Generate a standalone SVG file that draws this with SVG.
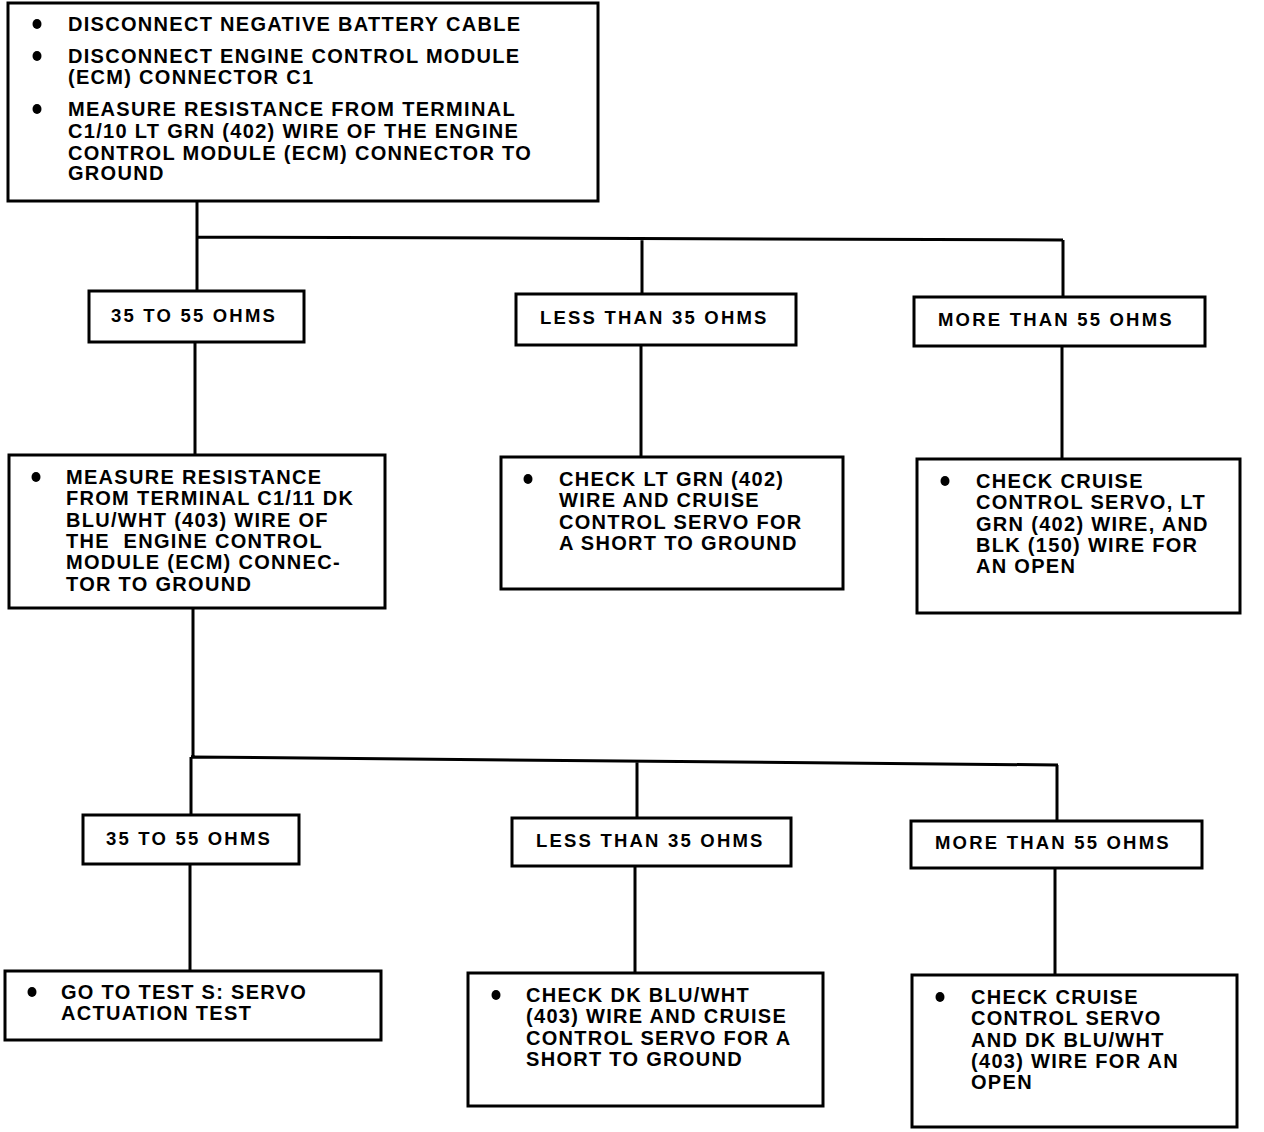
<svg xmlns="http://www.w3.org/2000/svg" width="1264" height="1132" viewBox="0 0 1264 1132">
<style>
.box{fill:#fff;stroke:#000;stroke-width:3}
.t{font-family:"Liberation Sans",Arial,sans-serif;font-weight:bold;font-size:20px;letter-spacing:1.3px;fill:#000}
.l{font-family:"Liberation Sans",Arial,sans-serif;font-weight:bold;font-size:18.5px;letter-spacing:2.2px;fill:#000}
.c{fill:none;stroke:#000;stroke-width:3}
.b{fill:#000}
</style>
<rect width="1264" height="1132" fill="#fff"/>
<g id="connectors">
<path class="c" d="M197 201V237M197 237L1063 240M197 237V291M642 238V294M1063 240V298"/>
<path class="c" d="M195 342V455M641 345V457M1062 346V459"/>
<path class="c" d="M193 608V757M191 757L1058 765M191 757V815M637 761V818M1057 765V821"/>
<path class="c" d="M190 864V971M635 866V973M1055 868V975"/>
</g>
<g id="n1">
<rect class="box" x="8" y="3" width="590" height="198"/>
<ellipse class="b" cx="37" cy="24" rx="4.5" ry="5"/>
<ellipse class="b" cx="37" cy="56" rx="4.5" ry="5"/>
<ellipse class="b" cx="37" cy="109" rx="4.5" ry="5"/>
<text class="t" x="68" y="31">DISCONNECT NEGATIVE BATTERY CABLE</text>
<text class="t" x="68" y="63">DISCONNECT ENGINE CONTROL MODULE</text>
<text class="t" x="68" y="84">(ECM) CONNECTOR C1</text>
<text class="t" x="68" y="116">MEASURE RESISTANCE FROM TERMINAL</text>
<text class="t" x="68" y="138">C1/10 LT GRN (402) WIRE OF THE ENGINE</text>
<text class="t" x="68" y="160">CONTROL MODULE (ECM) CONNECTOR TO</text>
<text class="t" x="68" y="180">GROUND</text>
</g>
<g id="n2">
<rect class="box" x="89" y="291" width="215" height="51"/>
<text class="l" x="111" y="322">35 TO 55 OHMS</text>
</g>
<g id="n3">
<rect class="box" x="516" y="294" width="280" height="51"/>
<text class="l" x="540" y="324">LESS THAN 35 OHMS</text>
</g>
<g id="n4">
<rect class="box" x="914" y="297" width="291" height="49"/>
<text class="l" x="938" y="326">MORE THAN 55 OHMS</text>
</g>
<g id="n5">
<rect class="box" x="9" y="455" width="376" height="153"/>
<ellipse class="b" cx="36" cy="477" rx="4.5" ry="5"/>
<text class="t" x="66" y="484">MEASURE RESISTANCE</text>
<text class="t" x="66" y="505">FROM TERMINAL C1/11 DK</text>
<text class="t" x="66" y="527">BLU/WHT (403) WIRE OF</text>
<text class="t" x="66" y="548" xml:space="preserve">THE  ENGINE CONTROL</text>
<text class="t" x="66" y="569">MODULE (ECM) CONNEC-</text>
<text class="t" x="66" y="591">TOR TO GROUND</text>
</g>
<g id="n6">
<rect class="box" x="501" y="457" width="342" height="132"/>
<ellipse class="b" cx="528" cy="479" rx="4.5" ry="5"/>
<text class="t" x="559" y="486">CHECK LT GRN (402)</text>
<text class="t" x="559" y="507">WIRE AND CRUISE</text>
<text class="t" x="559" y="529">CONTROL SERVO FOR</text>
<text class="t" x="559" y="550">A SHORT TO GROUND</text>
</g>
<g id="n7">
<rect class="box" x="917" y="459" width="323" height="154"/>
<ellipse class="b" cx="945" cy="481" rx="4.5" ry="5"/>
<text class="t" x="976" y="488">CHECK CRUISE</text>
<text class="t" x="976" y="509">CONTROL SERVO, LT</text>
<text class="t" x="976" y="531">GRN (402) WIRE, AND</text>
<text class="t" x="976" y="552">BLK (150) WIRE FOR</text>
<text class="t" x="976" y="573">AN OPEN</text>
</g>
<g id="n8">
<rect class="box" x="83" y="815" width="216" height="49"/>
<text class="l" x="106" y="845">35 TO 55 OHMS</text>
</g>
<g id="n9">
<rect class="box" x="512" y="818" width="279" height="48"/>
<text class="l" x="536" y="847">LESS THAN 35 OHMS</text>
</g>
<g id="n10">
<rect class="box" x="911" y="821" width="291" height="47"/>
<text class="l" x="935" y="849">MORE THAN 55 OHMS</text>
</g>
<g id="n11">
<rect class="box" x="5" y="971" width="376" height="69"/>
<ellipse class="b" cx="32" cy="992" rx="4.5" ry="5"/>
<text class="t" x="61" y="999">GO TO TEST S: SERVO</text>
<text class="t" x="61" y="1020">ACTUATION TEST</text>
</g>
<g id="n12">
<rect class="box" x="468" y="973" width="355" height="133"/>
<ellipse class="b" cx="496" cy="995" rx="4.5" ry="5"/>
<text class="t" x="526" y="1002">CHECK DK BLU/WHT</text>
<text class="t" x="526" y="1023">(403) WIRE AND CRUISE</text>
<text class="t" x="526" y="1045">CONTROL SERVO FOR A</text>
<text class="t" x="526" y="1066">SHORT TO GROUND</text>
</g>
<g id="n13">
<rect class="box" x="912" y="975" width="325" height="152"/>
<ellipse class="b" cx="940" cy="997" rx="4.5" ry="5"/>
<text class="t" x="971" y="1004">CHECK CRUISE</text>
<text class="t" x="971" y="1025">CONTROL SERVO</text>
<text class="t" x="971" y="1047">AND DK BLU/WHT</text>
<text class="t" x="971" y="1068">(403) WIRE FOR AN</text>
<text class="t" x="971" y="1089">OPEN</text>
</g>
</svg>
